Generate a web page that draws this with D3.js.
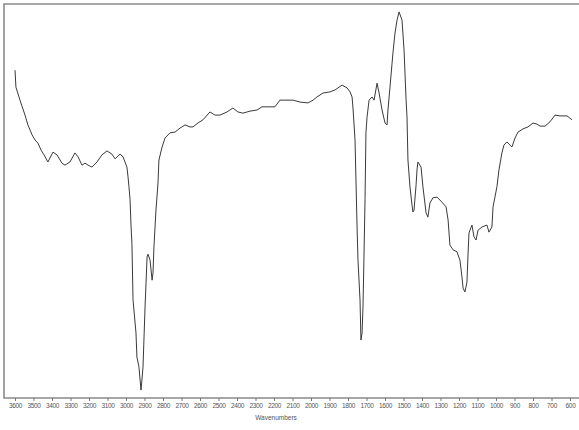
<!DOCTYPE html>
<html>
<head>
<meta charset="utf-8">
<script src="https://cdn.jsdelivr.net/npm/d3@7"></script>
<style>
  html, body { margin: 0; padding: 0; background: #fff; }
  #chart { width: 579px; height: 430px; }
</style>
</head>
<body>
<div id="chart"></div>
<script>
// IR spectrum (wavenumber cm-1, %T)
const wavenumbers = [
  3600, 3595, 3573, 3546, 3530, 3508, 3492, 3476, 3459, 3443, 3422, 3395, 3373, 3346, 3330, 3303,
  3276, 3259, 3238, 3222, 3205, 3184, 3157, 3130, 3103, 3076, 3059, 3032, 3016, 2995, 2989, 2984,
  2978, 2973, 2968, 2962, 2946, 2941, 2930, 2919, 2914, 2908, 2897, 2886, 2881, 2870, 2859, 2854,
  2849, 2838, 2827, 2822, 2805, 2789, 2762, 2735, 2708, 2681, 2654, 2638, 2611, 2584, 2546, 2519,
  2492, 2454, 2422, 2395, 2368, 2330, 2292, 2265, 2222, 2195, 2168, 2141, 2097, 2059, 2016, 1989,
  1968, 1935, 1897, 1870, 1832, 1805, 1789, 1778, 1773, 1762, 1751, 1746, 1735, 1730, 1724, 1719,
  1714, 1708, 1703, 1697, 1686, 1670, 1659, 1643, 1632, 1616, 1600, 1589, 1584, 1573, 1557, 1546,
  1535, 1524, 1508, 1497, 1486, 1481, 1476, 1465, 1454, 1449, 1443, 1432, 1427, 1422, 1405, 1395,
  1378, 1368, 1357, 1341, 1319, 1292, 1270, 1259, 1249, 1232, 1211, 1195, 1184, 1178, 1168, 1157,
  1151, 1146, 1130, 1119, 1108, 1097, 1076, 1049, 1038, 1022, 1016, 995, 984, 968, 957, 941,
  914, 897, 881, 854, 827, 800, 778, 762, 735, 708, 681, 654, 616, 589
];
const transmittance = [
  83.2, 78.9, 75.6, 71.8, 69.3, 66.8, 65.5, 64.7, 62.9, 61.7, 59.9, 62.4, 61.7, 59.6, 59.1, 59.9,
  62.2, 61.2, 59.1, 59.6, 59.1, 58.6, 59.9, 61.7, 62.7, 61.9, 60.7, 61.9, 61.2, 58.6, 56.1, 53.6,
  50.3, 43.9, 39.3, 24.9, 16.5, 10.4, 7.9, 2.0, 4.6, 7.9, 23.1, 35.8, 36.5, 35.0, 29.9, 31.7,
  38.3, 47.7, 54.6, 60.4, 63.7, 66.0, 67.3, 67.5, 68.5, 69.3, 68.8, 68.8, 69.8, 70.6, 72.6, 71.8,
  71.8, 72.6, 73.6, 72.6, 72.3, 72.8, 73.1, 73.9, 73.9, 73.9, 75.6, 75.6, 75.6, 75.1, 74.9, 75.6,
  76.4, 77.4, 77.7, 78.2, 79.4, 78.7, 77.7, 76.4, 73.6, 65.5, 43.4, 35.0, 24.9, 14.7, 16.5, 23.1,
  35.0, 50.3, 67.3, 71.3, 75.6, 76.4, 75.6, 79.9, 77.4, 73.1, 69.8, 69.3, 73.1, 78.9, 87.6, 92.6,
  95.9, 98.0, 95.9, 88.3, 75.6, 71.3, 60.4, 53.6, 49.0, 47.2, 47.7, 54.1, 57.9, 59.9, 58.6, 53.6,
  47.0, 45.9, 49.5, 50.8, 51.0, 49.7, 48.5, 45.2, 38.8, 37.6, 37.1, 35.0, 30.7, 27.9, 26.9, 29.4,
  36.8, 41.9, 43.9, 40.9, 40.1, 42.6, 43.4, 43.9, 42.1, 43.4, 48.5, 53.6, 57.9, 62.2, 64.2, 65.0,
  63.7, 66.0, 67.5, 68.3, 68.8, 69.8, 69.5, 69.0, 69.0, 70.1, 71.8, 71.6, 71.6, 70.6
];
const tickValues = d3.range(3600, 599, -100);
const axisTitle = 'Wavenumbers';

const data = wavenumbers.map((w, i) => ({ w: w, t: transmittance[i] }));

const width = 579, height = 430;
const frameLeft = 4, frameTop = 4, frameBottom = 398, frameRight = 579;

const svg = d3.select('#chart')
  .append('svg')
  .attr('width', width)
  .attr('height', height)
  .attr('font-family', 'Liberation Sans Narrow, Liberation Sans, sans-serif');

const x = d3.scaleLinear().domain([3600, 600]).range([15, 570]);
const y = d3.scaleLinear().domain([0, 100]).range([frameBottom, frameTop]);

// frame: top, left, bottom
svg.append('path')
  .attr('d', `M${frameRight},${frameTop}H${frameLeft}V${frameBottom}H${frameRight}`)
  .attr('fill', 'none')
  .attr('stroke', '#8a8a8a')
  .attr('stroke-width', 1.6);

// bottom axis
const xAxis = d3.axisBottom(x)
  .tickValues(tickValues)
  .tickSize(3)
  .tickPadding(2)
  .tickFormat(d3.format('d'));

const gx = svg.append('g')
  .attr('transform', `translate(0,${frameBottom})`)
  .call(xAxis);
gx.select('.domain').remove();
gx.selectAll('.tick line').attr('stroke', '#777');
gx.selectAll('.tick text')
  .attr('fill', '#555')
  .attr('font-size', 6.5)
  .style('letter-spacing', '-0.3px');

svg.append('text')
  .attr('x', 276)
  .attr('y', 420)
  .attr('text-anchor', 'middle')
  .attr('font-size', 6.5)
  .attr('fill', '#555')
  .text(axisTitle);

// spectrum
const line = d3.line()
  .x(d => x(d.w))
  .y(d => y(d.t));

svg.append('path')
  .datum(data)
  .attr('d', line)
  .attr('fill', 'none')
  .attr('stroke', '#3a3a3a')
  .attr('stroke-width', 1)
  .attr('stroke-linejoin', 'round');
</script>
</body>
</html>
